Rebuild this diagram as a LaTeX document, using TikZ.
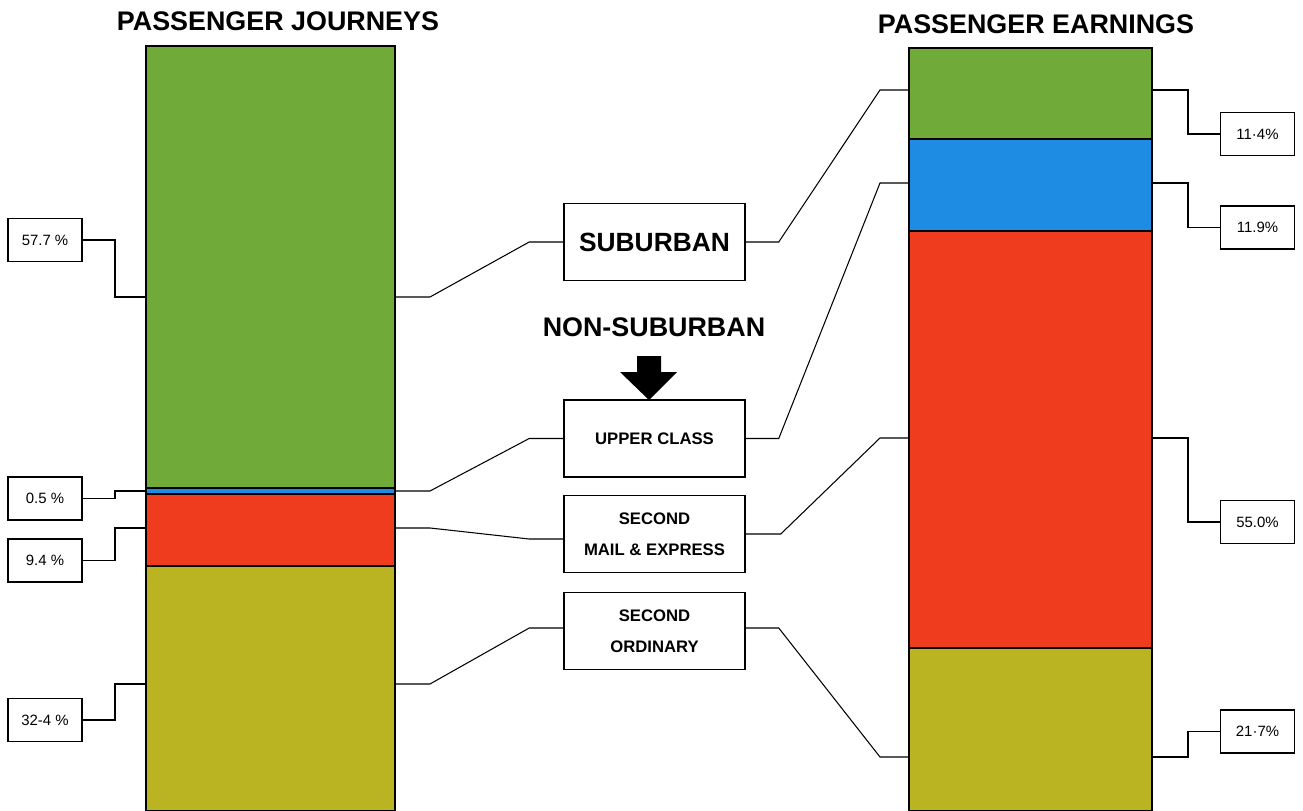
\documentclass[tikz,border=0pt]{standalone}
\usepackage{fontspec}
\setmainfont{Liberation Sans}
\usetikzlibrary{calc}
\definecolor{subgreen}{RGB}{112,170,56}
\definecolor{upblue}{RGB}{30,140,226}
\definecolor{mailred}{RGB}{240,60,30}
\definecolor{ordolive}{RGB}{186,180,34}
\tikzset{
  pct/.style={draw,line width=.9pt,minimum width=1.48cm,minimum height=.86cm,inner sep=0pt,
    font=\fontsize{8.5}{10}\selectfont},
  cls/.style={draw,line width=.9pt,minimum width=3.62cm,minimum height=1.54cm,inner sep=0pt,
    align=center,font=\bfseries\fontsize{9.5}{17.5}\selectfont},
  ttl/.style={font=\bfseries\fontsize{15.3}{17}\selectfont},
  seg/.style={draw,line width=.8pt}
}
\begin{document}
\begin{tikzpicture}[x=.02cm,y=-.02cm,line width=.6pt]
  \useasboundingbox (0,0) rectangle (1303,811);
  % titles
  \node[ttl] (jTitle) at (278,21) {PASSENGER JOURNEYS};
  \node[ttl] (eTitle) at (1036,24) {PASSENGER EARNINGS};
  % passenger journeys bar
  \filldraw[seg,fill=subgreen] (146,46) rectangle (395,488);
  \filldraw[seg,fill=upblue] (146,488) rectangle (395,494);
  \filldraw[seg,fill=mailred] (146,494) rectangle (395,566);
  \filldraw[seg,fill=ordolive] (146,566) rectangle (395,811);
  % passenger earnings bar
  \filldraw[seg,fill=subgreen] (909,48) rectangle (1152,139);
  \filldraw[seg,fill=upblue] (909,139) rectangle (1152,231);
  \filldraw[seg,fill=mailred] (909,231) rectangle (1152,648);
  \filldraw[seg,fill=ordolive] (909,648) rectangle (1152,811);
  % attachment points on the bars
  \coordinate (jSub) at (395,297);  \coordinate (jSubL) at (146,297);
  \coordinate (jUp) at (395,491);   \coordinate (jUpL) at (146,491);
  \coordinate (jMail) at (395,528); \coordinate (jMailL) at (146,528);
  \coordinate (jOrd) at (395,684);  \coordinate (jOrdL) at (146,684);
  \coordinate (eSub) at (909,90);   \coordinate (eSubR) at (1152,90);
  \coordinate (eUp) at (909,183);   \coordinate (eUpR) at (1152,183);
  \coordinate (eMail) at (909,438); \coordinate (eMailR) at (1152,438);
  \coordinate (eOrd) at (909,757);  \coordinate (eOrdR) at (1152,757);
  % middle boxes
  \node[cls,font=\bfseries\fontsize{15}{17}\selectfont] (sub) at (654.5,242) {SUBURBAN};
  \node[ttl] (nonsub) at (654,327) {NON-SUBURBAN};
  \node[cls] (up) at (654.5,438.5) {UPPER CLASS};
  \node[cls] (mail) at (654.5,534) {SECOND\\MAIL \& EXPRESS};
  \node[cls] (ord) at (654.5,631) {SECOND\\ORDINARY};
  \fill (637,356) -- (661,356) -- (661,372) -- (677,372) -- (649,400)
    -- (620,372) -- (637,372) -- cycle;
  % percentage boxes
  \node[pct] (jSubP) at (45,240) {57.7 \%};
  \node[pct] (jUpP) at (45,498.5) {0.5 \%};
  \node[pct] (jMailP) at (45,560.5) {9.4 \%};
  \node[pct] (jOrdP) at (45,720) {32-4 \%};
  \node[pct] (eSubP) at (1257.5,134) {11·4\%};
  \node[pct] (eUpP) at (1257.5,227.5) {11.9\%};
  \node[pct] (eMailP) at (1257.5,522) {55.0\%};
  \node[pct] (eOrdP) at (1257.5,731.5) {21·7\%};
  % left leaders
  \draw (jSubP.east) -| (115,297) -- (jSubL);
  \draw (jUpP.east) -| (115,491) -- (jUpL);
  \draw (jMailP.east) -| (115,528) -- (jMailL);
  \draw (jOrdP.east) -| (115,684) -- (jOrdL);
  % right leaders
  \draw (eSubR) -| (1188,134) -- (eSubP.west);
  \draw (eUpR) -| (1188,227.5) -- (eUpP.west);
  \draw (eMailR) -| (1188,522) -- (eMailP.west);
  \draw (eOrdR) -| (1188,731.5) -- (eOrdP.west);
  % connectors bar to class
  \draw (jSub) -- ++(35,0) -- ($(sub.west)+(-34,0)$) -- (sub.west);
  \draw (jUp) -- ++(35,0) -- ($(up.west)+(-34,0)$) -- (up.west);
  \draw (jMail) -- ++(35,0) -- ($(mail.west)+(-34,5)$) -- ($(mail.west)+(0,5)$);
  \draw (jOrd) -- ++(35,0) -- ($(ord.west)+(-34,-3)$) -- ($(ord.west)+(0,-3)$);
  \draw (sub.east) -- ++(33,0) -- ($(eSub)+(-29,0)$) -- (eSub);
  \draw (up.east) -- ++(33,0) -- ($(eUp)+(-29,0)$) -- (eUp);
  \draw (mail.east) -- ++(35,0) -- ($(eMail)+(-29,0)$) -- (eMail);
  \draw ($(ord.east)+(0,-3)$) -- ++(33,0) -- ($(eOrd)+(-29,0)$) -- (eOrd);
\end{tikzpicture}
\end{document}
